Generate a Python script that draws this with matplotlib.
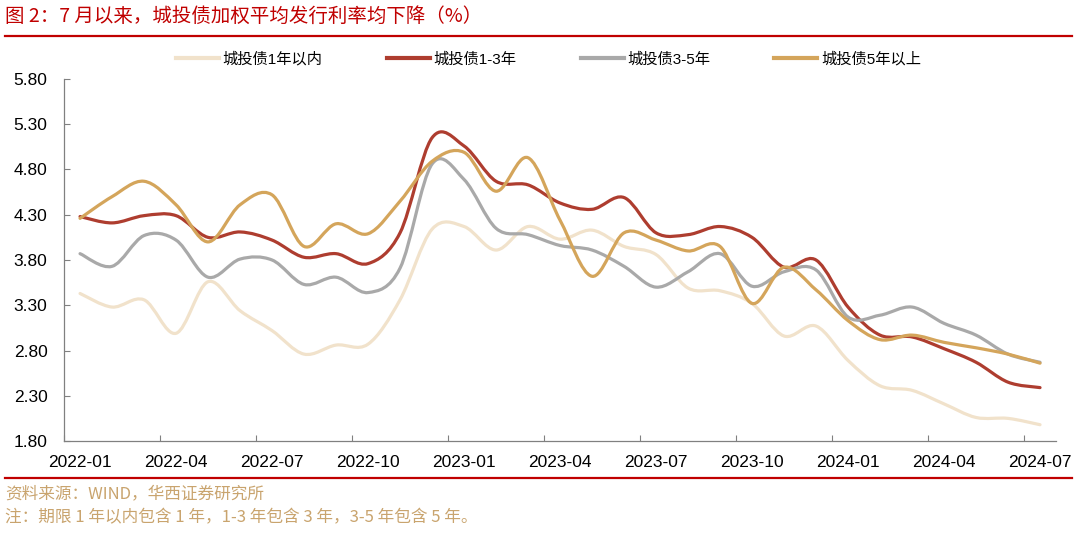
import numpy as np
import matplotlib
matplotlib.use("Agg")
import matplotlib.pyplot as plt
from matplotlib.path import Path
from matplotlib.patches import PathPatch

plt.rcParams['font.family'] = ['Liberation Sans', 'Noto Sans CJK SC', 'DejaVu Sans']

# monthly data, 2022-01 .. 2024-07
months = ["2022-01", "2022-02", "2022-03", "2022-04", "2022-05", "2022-06",
          "2022-07", "2022-08", "2022-09", "2022-10", "2022-11", "2022-12",
          "2023-01", "2023-02", "2023-03", "2023-04", "2023-05", "2023-06",
          "2023-07", "2023-08", "2023-09", "2023-10", "2023-11", "2023-12",
          "2024-01", "2024-02", "2024-03", "2024-04", "2024-05", "2024-06",
          "2024-07"]

within_1y = [3.43, 3.28, 3.36, 2.99, 3.56, 3.24, 3.02, 2.76, 2.86, 2.87,
             3.36, 4.14, 4.17, 3.91, 4.17, 4.03, 4.13, 3.95, 3.86, 3.49,
             3.46, 3.32, 2.96, 3.07, 2.69, 2.41, 2.36, 2.21, 2.06, 2.05,
             1.98]
y1_3 = [4.28, 4.21, 4.29, 4.29, 4.05, 4.11, 4.02, 3.83, 3.87, 3.76,
        4.10, 5.15, 5.06, 4.67, 4.63, 4.43, 4.36, 4.49, 4.10, 4.08,
        4.17, 4.05, 3.72, 3.80, 3.28, 2.97, 2.95, 2.82, 2.67, 2.45,
        2.39]
y3_5 = [3.87, 3.73, 4.07, 4.02, 3.61, 3.81, 3.80, 3.53, 3.61, 3.44,
        3.71, 4.86, 4.69, 4.15, 4.08, 3.96, 3.91, 3.73, 3.50, 3.67,
        3.87, 3.51, 3.67, 3.69, 3.17, 3.19, 3.28, 3.10, 2.97, 2.76,
        2.67]
over_5y = [4.26, 4.50, 4.67, 4.41, 4.00, 4.41, 4.52, 3.95, 4.20, 4.09,
           4.45, 4.89, 4.99, 4.56, 4.93, 4.24, 3.62, 4.10, 4.02, 3.90,
           3.95, 3.32, 3.72, 3.47, 3.13, 2.92, 2.97, 2.89, 2.83, 2.76,
           2.66]

names = ["城投债1年以内", "城投债1-3年", "城投债3-5年", "城投债5年以上"]
colors = ["#F1E2CB", "#AE3D2F", "#A9A9A9", "#D4A55B"]


def smooth_path(xs, ys):
    # bezier through the points, like the spreadsheet "smoothed line"
    pts = np.column_stack([xs, ys])
    verts = [pts[0]]
    codes = [Path.MOVETO]
    n = len(pts)
    for i in range(n - 1):
        p0 = pts[i - 1] if i > 0 else pts[i]
        p1 = pts[i]
        p2 = pts[i + 1]
        p3 = pts[i + 2] if i + 2 < n else pts[i + 1]
        c1 = p1 + (p2 - p0) / 6.0
        c2 = p2 - (p3 - p1) / 6.0
        verts += [c1, c2, p2]
        codes += [Path.CURVE4] * 3
    return Path(verts, codes)


fig = plt.figure(figsize=(10.8, 5.33), dpi=100)
ax = fig.add_axes([0.0593, 0.1726, 0.9185, 0.6792])

x = np.arange(len(months))
series = [within_1y, y1_3, y3_5, over_5y]
handles = []
for vals, c, nm in zip(series, colors, names):
    patch = PathPatch(smooth_path(x, vals), fill=False, edgecolor=c,
                      lw=2.3, capstyle='round', joinstyle='round')
    ax.add_patch(patch)
    h, = ax.plot([], [], color=c, lw=3, label=nm)
    handles.append(h)

ax.set_xlim(-0.5, len(months) - 0.5)
ax.set_ylim(1.8, 5.8)
ax.set_yticks(np.arange(1.8, 5.81, 0.5))
ax.set_yticklabels(["%.2f" % v for v in np.arange(1.8, 5.81, 0.5)])

ax.set_xticks(np.arange(-0.5, len(months) - 1, 3))
ax.set_xticklabels([])
ax.set_xticks(x[::3], minor=True)
ax.set_xticklabels(months[::3], minor=True)

ax.tick_params(axis='x', which='major', direction='in', length=4,
               color='#808080', width=0.8)
ax.tick_params(axis='x', which='minor', length=0, labelsize=12.5, pad=10)
ax.tick_params(axis='y', direction='in', length=4, color='#808080',
               width=0.8, labelsize=12.5, pad=12)

for s in ['top', 'right']:
    ax.spines[s].set_visible(False)
for s in ['left', 'bottom']:
    ax.spines[s].set_color('#808080')
    ax.spines[s].set_linewidth(0.9)

fig.legend(handles=handles, loc='center', bbox_to_anchor=(0.508, 0.889),
           ncol=4, frameon=False, fontsize=11, handlelength=2.8,
           handletextpad=0.25, columnspacing=4.2)

# title and rules
fig.text(0.005, 0.970, "图 2：7 月以来，城投债加权平均发行利率均下降（%）",
         color='#C00000', fontsize=14, va='center', ha='left',
         family=['Noto Sans CJK SC', 'DejaVu Sans'])
fig.add_artist(plt.Line2D([0.005, 0.993], [0.932, 0.932], color='#C00000',
                          lw=1.6, transform=fig.transFigure))
fig.add_artist(plt.Line2D([0.005, 0.993], [0.103, 0.103], color='#C00000',
                          lw=1.6, transform=fig.transFigure))

fig.text(0.005, 0.073, "资料来源：WIND，华西证券研究所", color='#C9A46E',
         fontsize=12, va='center', ha='left',
         family=['Noto Sans CJK SC', 'DejaVu Sans'])
fig.text(0.005, 0.028, "注：期限 1 年以内包含 1 年，1-3 年包含 3 年，3-5 年包含 5 年。",
         color='#C9A46E', fontsize=12, va='center', ha='left',
         family=['Noto Sans CJK SC', 'DejaVu Sans'])

fig.savefig("out.png", dpi=100)
